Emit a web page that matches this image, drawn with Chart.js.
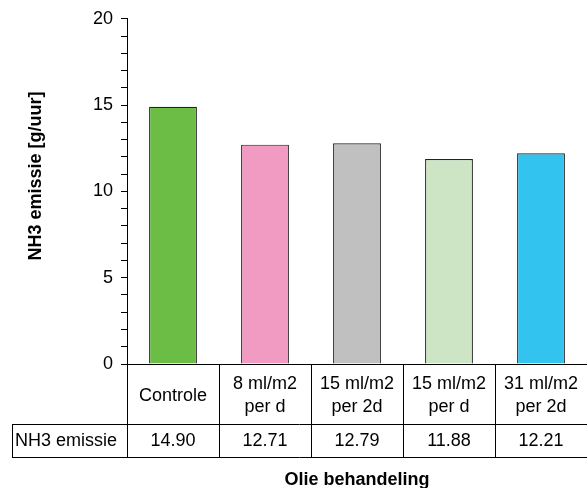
<!DOCTYPE html>
<html>
<head>
<meta charset="utf-8">
<script src="https://cdn.jsdelivr.net/npm/chart.js@4"></script>
<style>
  html, body { margin: 0; padding: 0; background: #fff; }
  #wrap { width: 587px; height: 488px; }
</style>
</head>
<body>
<div id="wrap"><canvas id="myChart" width="587" height="488"></canvas></div>
<script>
// Olie behandelingen en NH3 emissie
const categories = [
  ['Controle'],
  ['8 ml/m2', 'per d'],
  ['15 ml/m2', 'per 2d'],
  ['15 ml/m2', 'per d'],
  ['31 ml/m2', 'per 2d']
];
const emissie = [14.90, 12.71, 12.79, 11.88, 12.21];
const barColors = ['#6cbd45', '#f19ac2', '#c0c0c0', '#cde5c4', '#33c3ef'];
const rowLabel = 'NH3 emissie';
const yTitle = 'NH3 emissie [g/uur]';
const xTitle = 'Olie behandeling';

const FONT = "'Liberation Sans', Arial, sans-serif";

// draws the data table under the bars + axis titles
const tablePlugin = {
  id: 'table',
  afterDraw(chart) {
    const ctx = chart.ctx;
    const x = chart.scales.x;
    const area = chart.chartArea;
    const w = (x.right - x.left) / categories.length;
    const rowTop = area.bottom + 60;
    const rowBottom = rowTop + 33;
    ctx.save();
    ctx.strokeStyle = '#000';
    ctx.lineWidth = 1;
    ctx.beginPath();
    // x axis line
    ctx.moveTo(x.left, area.bottom + 0.5);
    ctx.lineTo(x.right, area.bottom + 0.5);
    // vertical separators
    for (let i = 0; i < categories.length; i++) {
      const bx = Math.round(x.left + i * w) + 0.5;
      ctx.moveTo(bx, area.bottom);
      ctx.lineTo(bx, rowBottom);
    }
    ctx.moveTo(12.5, rowTop);
    ctx.lineTo(12.5, rowBottom);
    ctx.moveTo(12, rowTop + 0.5);
    ctx.lineTo(x.right, rowTop + 0.5);
    ctx.moveTo(12, rowBottom + 0.5);
    ctx.lineTo(x.right, rowBottom + 0.5);
    ctx.stroke();

    ctx.fillStyle = '#000';
    ctx.font = '18px ' + FONT;
    ctx.textAlign = 'center';
    ctx.textBaseline = 'middle';
    categories.forEach((lines, i) => {
      const cx = x.getPixelForValue(i);
      const mid = area.bottom + 32;
      const lh = 23;
      lines.forEach((t, j) => {
        const ty = mid + (j - (lines.length - 1) / 2) * lh;
        ctx.fillText(t, cx, ty);
      });
      ctx.fillText(emissie[i].toFixed(2), cx, (rowTop + rowBottom) / 2 + 1);
    });
    ctx.textAlign = 'left';
    ctx.fillText(rowLabel, 15, (rowTop + rowBottom) / 2 + 1);

    ctx.font = 'bold 18px ' + FONT;
    ctx.textAlign = 'center';
    ctx.fillText(xTitle, (x.left + x.right) / 2, rowBottom + 23);

    // y title
    ctx.translate(36, 176);
    ctx.rotate(-Math.PI / 2);
    ctx.fillText(yTitle, 0, 0);
    ctx.restore();
  }
};

const ctx = document.getElementById('myChart');

new Chart(ctx, {
  type: 'bar',
  data: {
    labels: categories,
    datasets: [{
      label: rowLabel,
      data: emissie,
      backgroundColor: barColors,
      borderColor: '#222',
      borderWidth: 1.2,
      categoryPercentage: 1,
      barPercentage: 0.52
    }]
  },
  options: {
    responsive: false,
    animation: false,
    layout: { padding: { left: 0, top: 16, right: 0, bottom: 124 } },
    plugins: {
      legend: { display: false },
      tooltip: { enabled: false }
    },
    scales: {
      x: { display: false },
      y: {
        min: 0,
        max: 20,
        afterFit(scale) { scale.width = 127; },
        border: { color: '#000', width: 1 },
        grid: {
          drawOnChartArea: false,
          color: '#000',
          tickLength: 6
        },
        ticks: {
          stepSize: 1,
          autoSkip: false,
          padding: 8,
          color: '#000',
          font: { family: FONT, size: 18 },
          callback: (v) => (v % 5 === 0 ? v : '')
        }
      }
    }
  },
  plugins: [tablePlugin]
});
</script>
</body>
</html>
